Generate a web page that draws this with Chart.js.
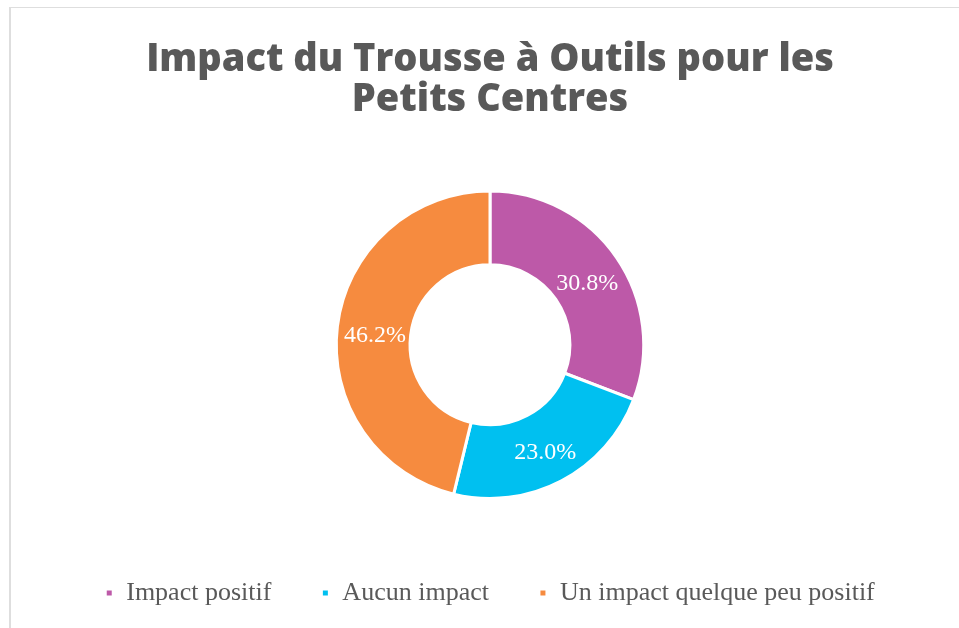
<!DOCTYPE html>
<html lang="fr">
<head>
    <meta charset="utf-8">
    <script src="https://cdn.jsdelivr.net/npm/chart.js"></script>
    <style>
        html, body { margin: 0; padding: 0; background: #ffffff; }
        .frame {
            position: absolute;
            left: 9px;
            top: 7px;
            width: 1000px;
            height: 700px;
            border-left: 2px solid #dedede;
            border-top: 1px solid #dedede;
        }
        .chart-box {
            position: absolute;
            left: 0;
            top: 0;
            width: 959px;
            height: 628px;
        }
    </style>
</head>
<body>
    <div class="frame"></div>
    <div class="chart-box">
        <canvas id="impactChart"></canvas>
    </div>

    <script>
        const categories = ['Impact positif', 'Aucun impact', 'Un impact quelque peu positif'];
        const shares = [30.8, 23.0, 46.2];
        const sliceColors = ['#bd59a8', '#00c0f0', '#f68b3f'];
        const titleLines = ['Impact du Trousse à Outils pour les', 'Petits Centres'];

        const serif = '"Liberation Serif", "DejaVu Serif", serif';

        // percent labels in the middle of each ring slice
        const sliceLabels = {
            id: 'sliceLabels',
            afterDatasetsDraw(chart) {
                const ctx = chart.ctx;
                const meta = chart.getDatasetMeta(0);
                ctx.save();
                ctx.fillStyle = '#ffffff';
                ctx.font = '24px ' + serif;
                ctx.textAlign = 'center';
                ctx.textBaseline = 'middle';
                meta.data.forEach((arc, i) => {
                    const p = arc.tooltipPosition();
                    ctx.fillText(shares[i].toFixed(1) + '%', p.x + 1, p.y + 5);
                });
                ctx.restore();
            }
        };

        new Chart(document.getElementById('impactChart'), {
            type: 'doughnut',
            data: {
                labels: categories,
                datasets: [{
                    data: shares,
                    backgroundColor: sliceColors,
                    borderColor: '#ffffff',
                    borderWidth: 3,
                    hoverOffset: 0
                }]
            },
            options: {
                responsive: true,
                maintainAspectRatio: false,
                animation: false,
                cutout: '52%',
                layout: { padding: { left: 21, right: 0, top: 0, bottom: 12 } },
                plugins: {
                    tooltip: { enabled: false },
                    title: {
                        display: true,
                        text: titleLines,
                        color: '#595959',
                        font: { family: '"Open Sans", sans-serif', size: 38, weight: '800', lineHeight: 1.06 },
                        padding: { top: 40, bottom: 69 }
                    },
                    legend: {
                        position: 'bottom',
                        title: { display: true, text: '', font: { size: 10 }, padding: { top: 0, bottom: 18 } },
                        labels: {
                            color: '#595959',
                            font: { family: serif, size: 26 },
                            boxWidth: 8,
                            boxHeight: 8,
                            padding: 50
                        }
                    }
                }
            },
            plugins: [sliceLabels]
        });
    </script>
</body>
</html>
